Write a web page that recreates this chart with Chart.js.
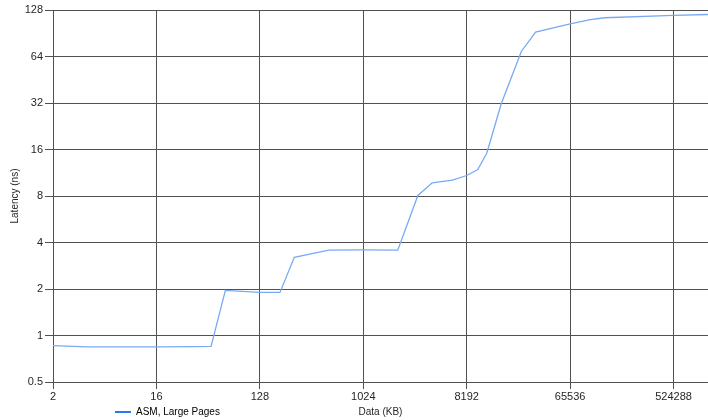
<!DOCTYPE html>
<html>
<head>
<meta charset="utf-8">
<script src="https://cdn.jsdelivr.net/npm/chart.js@4/dist/chart.umd.min.js"></script>
<style>
  html, body { margin: 0; padding: 0; background: #fff; }
  #wrap { width: 708px; height: 420px; position: relative; }
</style>
</head>
<body>
<div id="wrap"><canvas id="chart-latency"></canvas></div>
<script>
// data
const SIZES_KB = [2, 4, 8, 16, 32, 48, 64, 128, 192, 256, 512, 1024, 2048, 3072, 4096, 6144, 8192, 10240, 12288, 16384, 24576, 32768, 65536, 98304, 131072, 524288, 1048576]
const LATENCY_NS = [0.86, 0.845, 0.845, 0.845, 0.848, 0.85, 1.96, 1.9, 1.9, 3.21, 3.57, 3.58, 3.57, 8.06, 9.74, 10.15, 10.86, 11.88, 15.2, 31.5, 69, 92, 104, 111, 114, 118, 119.7]
const X_TICKS = [2, 16, 128, 1024, 8192, 65536, 524288]
const Y_TICKS = [0.5, 1, 2, 4, 8, 16, 32, 64, 128]
const SERIES_LABEL = 'ASM, Large Pages'

const GRID = '#505050'
const TXT = '#262626'
const FONT = 'Liberation Sans, Arial, sans-serif'

// shifts the legend row to the right, next to the axis title
const legendShift = {
  id: 'legendShift',
  afterLayout(chart) {
    if (chart.legend) chart.legend.left += 111
  }
}

new Chart(document.getElementById('chart-latency'), {
  type: 'line',
  data: {
    datasets: [{
      label: SERIES_LABEL,
      data: SIZES_KB.map((s, i) => ({ x: s, y: LATENCY_NS[i] })),
      borderColor: '#78aaf2',
      borderWidth: 1.3,
      pointRadius: 0,
      tension: 0,
      fill: false
    }]
  },
  options: {
    responsive: true,
    maintainAspectRatio: false,
    animation: false,
    layout: { padding: { top: 10, right: 0, bottom: -7, left: 0 } },
    plugins: {
      tooltip: { enabled: false },
      legend: {
        display: true,
        position: 'bottom',
        align: 'start',
        labels: {
          color: TXT,
          font: { size: 10, family: FONT },
          padding: 4,
          usePointStyle: true,
          pointStyleWidth: 16,
          boxHeight: 10,
          generateLabels: () => [{
            text: SERIES_LABEL,
            strokeStyle: '#2a78ee',
            fillStyle: '#2a78ee',
            lineWidth: 2,
            pointStyle: 'line',
            hidden: false,
            datasetIndex: 0
          }]
        }
      }
    },
    scales: {
      x: {
        type: 'logarithmic',
        min: 2,
        max: 1048576,
        afterBuildTicks: axis => { axis.ticks = X_TICKS.map(v => ({ value: v })) },
        afterFit: axis => { axis.height = 21 },
        ticks: {
          color: TXT, font: { size: 11, family: FONT }, padding: 1,
          maxRotation: 0, autoSkip: false,
          callback: v => String(v)
        },
        grid: { color: GRID, lineWidth: 1, tickLength: 7, tickColor: GRID },
        border: { color: GRID },
        title: {
          display: true, text: 'Data (KB)', color: TXT,
          font: { size: 10, family: FONT }, padding: { top: 0, bottom: -15 }
        }
      },
      y: {
        type: 'logarithmic',
        min: 0.5,
        max: 128,
        afterBuildTicks: axis => { axis.ticks = Y_TICKS.map(v => ({ value: v })) },
        afterFit: axis => { axis.width = 53 },
        ticks: {
          color: TXT, font: { size: 11, family: FONT }, padding: 2,
          autoSkip: false,
          callback: v => String(v)
        },
        grid: { color: GRID, lineWidth: 1, tickLength: 8, tickColor: GRID },
        border: { color: GRID },
        title: {
          display: true, text: 'Latency (ns)', color: TXT,
          font: { size: 10, family: FONT }, padding: { top: 9, bottom: 0 }
        }
      }
    }
  },
  plugins: [legendShift]
})
</script>
</body>
</html>
